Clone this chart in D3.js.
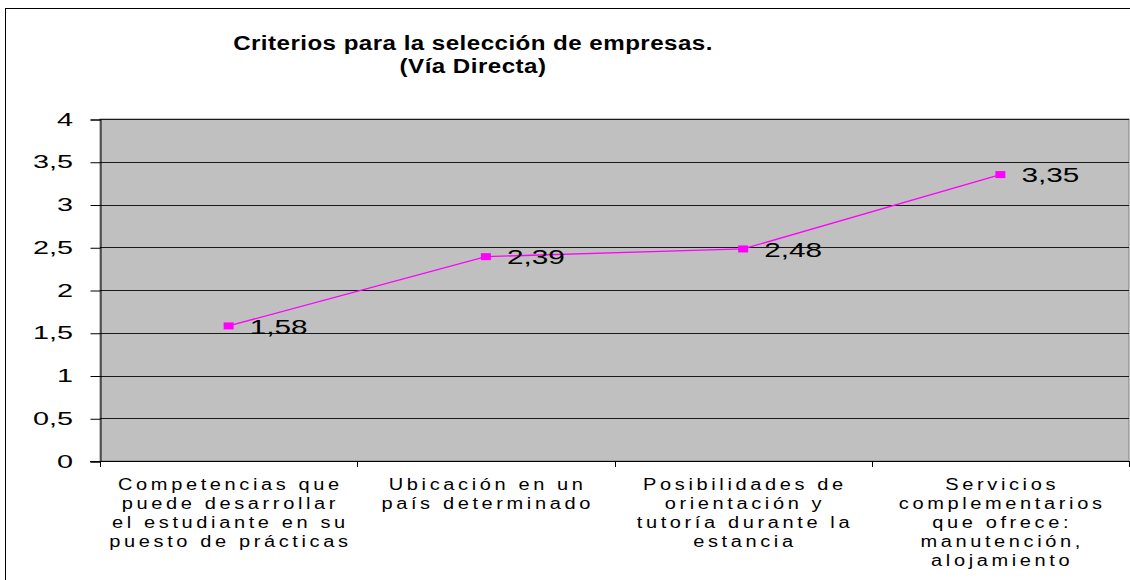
<!DOCTYPE html>
<html>
<head>
<meta charset="utf-8">
<script src="https://cdn.jsdelivr.net/npm/d3@7"></script>
<style>
  html, body { margin: 0; padding: 0; background: #fff; }
  svg { display: block; font-family: "Liberation Sans", Arial, sans-serif; }
</style>
</head>
<body>
<svg id="chart" width="1130" height="580"></svg>
<script>
const titleLines = ["Criterios para la selección de empresas.", "(Vía Directa)"];
const categories = [
  "Competencias que puede desarrollar el estudiante en su puesto de prácticas",
  "Ubicación en un país determinado",
  "Posibilidades de orientación y tutoría durante la estancia",
  "Servicios complementarios que ofrece: manutención, alojamiento"
];
const categoryLines = [
  ["Competencias que", "puede desarrollar", "el estudiante en su", "puesto de prácticas"],
  ["Ubicación en un", "país determinado"],
  ["Posibilidades de", "orientación y", "tutoría durante la", "estancia"],
  ["Servicios", "complementarios", "que ofrece:", "manutención,", "alojamiento"]
];
const values = [1.58, 2.39, 2.48, 3.35];
const valueLabels = ["1,58", "2,39", "2,48", "3,35"];
const yTicks = [0, 0.5, 1, 1.5, 2, 2.5, 3, 3.5, 4];
const yTickLabels = ["0", "0,5", "1", "1,5", "2", "2,5", "3", "3,5", "4"];

const svg = d3.select("#chart");
const plot = { left: 100, right: 1129, top: 119, bottom: 461 };

// helper: horizontally stretched text
function wideText(g, tx, ty, sx, size, anchor, str, bold, ls) {
  const t = g.append("text")
    .attr("transform", `translate(${tx},${ty}) scale(${sx},1)`)
    .attr("text-anchor", anchor)
    .attr("font-size", size)
    .attr("font-weight", bold ? "bold" : "normal")
    .attr("fill", "#000")
    .text(str);
  if (ls) t.style("letter-spacing", ls + "px");
  return t;
}

// outer frame (extends beyond the visible area)
svg.append("rect")
  .attr("x", 5.5).attr("y", 8.5).attr("width", 1140).attr("height", 600)
  .attr("fill", "#fff").attr("stroke", "#000").attr("stroke-width", 1);

const x = d3.scaleBand().domain(categories).range([plot.left, plot.right]).padding(0);
const y = d3.scaleLinear().domain([0, 4]).range([plot.bottom, plot.top]);
const cx = i => x(categories[i]) + x.bandwidth() / 2;

// plot background
svg.append("rect")
  .attr("x", plot.left).attr("y", plot.top)
  .attr("width", plot.right - plot.left).attr("height", plot.bottom - plot.top)
  .attr("fill", "#c0c0c0").attr("stroke", "#808080").attr("stroke-width", 1);

// gridlines
svg.append("g").selectAll("line").data(yTicks.filter(d => d > 0)).join("line")
  .attr("x1", plot.left).attr("x2", plot.right)
  .attr("y1", d => Math.round(y(d)) + 0.5).attr("y2", d => Math.round(y(d)) + 0.5)
  .attr("stroke", "#1a1a1a").attr("stroke-width", 1);

// y axis (line + ticks via d3 axis, labels drawn stretched)
const yAxis = d3.axisLeft(y).tickValues(yTicks).tickFormat("").tickSize(10);
const gy = svg.append("g").attr("transform", `translate(${plot.left + 0.5},0.5)`).call(yAxis);
gy.select(".domain").attr("stroke", "#000");
gy.selectAll(".tick line").attr("stroke", "#000");
const yLab = svg.append("g");
yTicks.forEach((v, i) => {
  wideText(yLab, 73, y(v) + 6.5, 1.6, 18, "end", yTickLabels[i], false);
});

// x axis with ticks at band boundaries
const xAxisLine = svg.append("g");
xAxisLine.append("line")
  .attr("x1", plot.left - 10).attr("x2", plot.right)
  .attr("y1", plot.bottom + 0.5).attr("y2", plot.bottom + 0.5)
  .attr("stroke", "#000");
const bounds = categories.map(c => x(c)).concat([x(categories[categories.length - 1]) + x.bandwidth()]);
xAxisLine.selectAll("line.tk").data(bounds).join("line").attr("class", "tk")
  .attr("x1", d => Math.round(d) + 0.5).attr("x2", d => Math.round(d) + 0.5)
  .attr("y1", plot.bottom).attr("y2", plot.bottom + 6)
  .attr("stroke", "#000");

// category labels
const catG = svg.append("g");
categoryLines.forEach((lines, i) => {
  lines.forEach((ln, j) => {
    wideText(catG, cx(i) + 1.8, 490 + j * 19, 1.25, 16, "middle", ln, false, 2.9);
  });
});

// line
const line = d3.line().x((d, i) => cx(i)).y(d => y(d));
svg.append("path").datum(values)
  .attr("d", line).attr("fill", "none")
  .attr("stroke", "#ff00ff").attr("stroke-width", 1.3);

// markers
svg.append("g").selectAll("rect").data(values).join("rect")
  .attr("x", (d, i) => cx(i) - 5)
  .attr("y", d => y(d) - 3.5)
  .attr("width", 10).attr("height", 7)
  .attr("fill", "#ff00ff");

// value labels
const vG = svg.append("g");
values.forEach((v, i) => {
  wideText(vG, cx(i) + 21, y(v) + 7.7, 1.45, 20.5, "start", valueLabels[i], false);
});

// title
const tG = svg.append("g");
titleLines.forEach((ln, j) => {
  wideText(tG, 473, 50 + j * 22.5, 1.15, 21, "middle", ln, true, 0.4);
});
</script>
</body>
</html>
